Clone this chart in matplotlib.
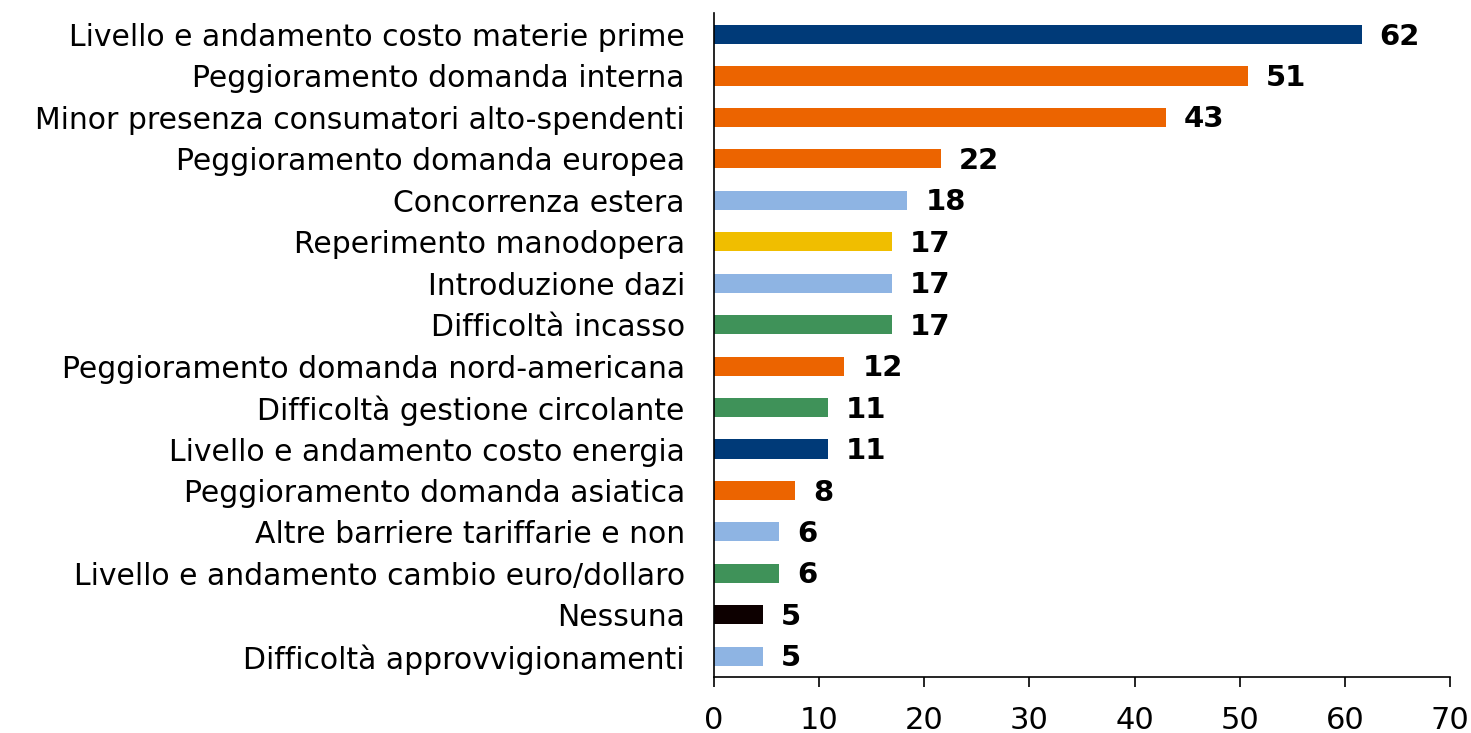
import numpy as np
import matplotlib
matplotlib.use('Agg')
import matplotlib.pyplot as plt

categories = [
    'Livello e andamento costo materie prime',
    'Peggioramento domanda interna',
    'Minor presenza consumatori alto-spendenti',
    'Peggioramento domanda europea',
    'Concorrenza estera',
    'Reperimento manodopera',
    'Introduzione dazi',
    'Difficoltà incasso',
    'Peggioramento domanda nord-americana',
    'Difficoltà gestione circolante',
    'Livello e andamento costo energia',
    'Peggioramento domanda asiatica',
    'Altre barriere tariffarie e non',
    'Livello e andamento cambio euro/dollaro',
    'Nessuna',
    'Difficoltà approvvigionamenti',
]
values = [61.6, 50.8, 43.0, 21.6, 18.4, 16.9, 16.9, 16.9, 12.4, 10.8, 10.8, 7.7, 6.2, 6.2, 4.7, 4.7]
labels = ['62', '51', '43', '22', '18', '17', '17', '17', '12', '11', '11', '8', '6', '6', '5', '5']
colors = ['#003A78', '#EC6400', '#EC6400', '#EC6400', '#8EB4E3', '#F0BE00', '#8EB4E3', '#3F9259',
          '#EC6400', '#3F9259', '#003A78', '#EC6400', '#8EB4E3', '#3F9259', '#0D0000', '#8EB4E3']

plt.rcParams['font.family'] = ['DejaVu Sans']

fig = plt.figure(figsize=(14.71, 7.33), dpi=100)
ax = fig.add_axes([0.4854, 0.0764, 0.5003, 0.9059])

y = np.arange(len(categories))
ax.barh(y, values, height=0.46, color=colors)
for yi, v, lab in zip(y, values, labels):
    ax.text(v + 1.7, yi + 0.05, lab, va='center', ha='left', fontsize=21, fontweight='bold')

ax.set_ylim(15.5, -0.52)
ax.set_xlim(0, 70)
ax.set_xticks(np.arange(0, 71, 10))
ax.set_yticks(y)
ax.set_yticklabels(categories, fontsize=21.5)
ax.tick_params(axis='y', length=0, pad=21)
ax.tick_params(axis='x', length=7, labelsize=22, pad=14, width=1.2)
for s in ['top', 'right']:
    ax.spines[s].set_visible(False)
ax.spines['left'].set_linewidth(1.2)
ax.spines['bottom'].set_linewidth(1.2)

fig.savefig('out.png', dpi=100)
